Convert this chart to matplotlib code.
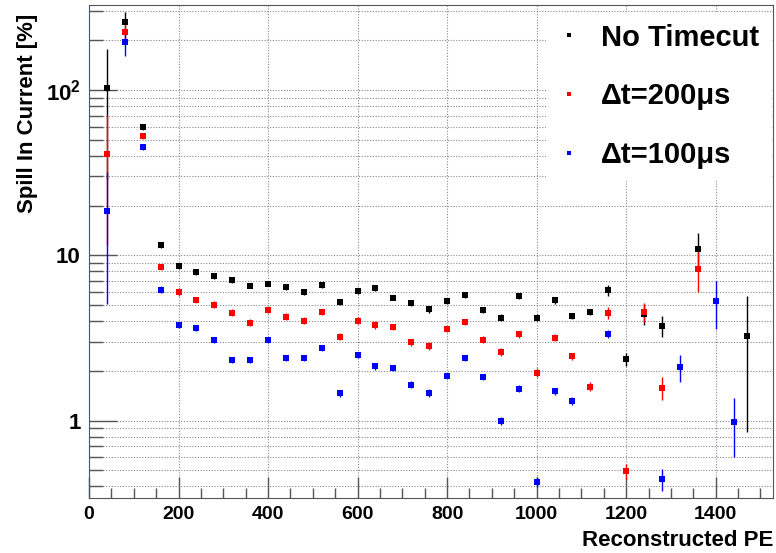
import matplotlib
matplotlib.use("Agg")
import matplotlib.pyplot as plt
from matplotlib.lines import Line2D
from matplotlib.ticker import FixedLocator, FixedFormatter, LogLocator, MultipleLocator, NullFormatter

plt.rcParams["font.family"] = ["Liberation Sans", "DejaVu Sans"]
plt.rcParams["font.weight"] = "bold"
plt.rcParams["mathtext.fontset"] = "custom"
plt.rcParams["mathtext.rm"] = "Liberation Sans:bold"
plt.rcParams["mathtext.bf"] = "Liberation Sans:bold"

# --- dados (PE reconstruido, % spill) ---
x_none = [40, 80, 120, 160, 200, 240, 280, 320, 360, 400, 440, 480, 520, 560, 600,
          640, 680, 720, 760, 800, 840, 880, 920, 960, 1000, 1040, 1080, 1120, 1160,
          1200, 1240, 1280, 1360, 1470]
y_none = [103, 257, 59.5, 11.5, 8.6, 7.9, 7.45, 7.1, 6.55, 6.75, 6.45, 6.0, 6.6, 5.2, 6.1,
          6.35, 5.55, 5.15, 4.7, 5.3, 5.75, 4.65, 4.2, 5.65, 4.2, 5.35, 4.3, 4.55, 6.15,
          2.35, 4.4, 3.75, 10.9, 3.25]
e_none = [74, 41, 2.0, 0.5, 0.35, 0.3, 0.3, 0.3, 0.25, 0.25, 0.25, 0.25, 0.25, 0.2, 0.25,
          0.25, 0.2, 0.2, 0.2, 0.2, 0.2, 0.2, 0.2, 0.2, 0.2, 0.25, 0.2, 0.2, 0.45,
          0.22, 0.6, 0.55, 2.7, 2.4]

x_200 = [40, 80, 120, 160, 200, 240, 280, 320, 360, 400, 440, 480, 520, 560, 600,
         640, 680, 720, 760, 800, 840, 880, 920, 960, 1000, 1040, 1080, 1120, 1160,
         1200, 1240, 1280, 1360]
y_200 = [41, 226, 52.5, 8.5, 6.0, 5.37, 5.03, 4.5, 3.91, 4.67, 4.25, 4.02, 4.54, 3.22, 4.02,
         3.8, 3.68, 2.98, 2.84, 3.58, 3.93, 3.09, 2.61, 3.33, 1.95, 3.17, 2.45, 1.6, 4.5,
         0.493, 4.56, 1.58, 8.26]
e_200 = [29.5, 35, 2.0, 0.4, 0.3, 0.25, 0.25, 0.2, 0.2, 0.2, 0.2, 0.2, 0.2, 0.15, 0.2,
         0.2, 0.15, 0.15, 0.15, 0.15, 0.15, 0.15, 0.15, 0.15, 0.12, 0.15, 0.12, 0.1, 0.37,
         0.05, 0.6, 0.25, 2.3]

x_100 = [40, 80, 120, 160, 200, 240, 280, 320, 360, 400, 440, 480, 520, 560, 600,
         640, 680, 720, 760, 800, 840, 880, 920, 960, 1000, 1040, 1080, 1160,
         1280, 1320, 1400, 1440]
y_100 = [18.5, 195, 45, 6.2, 3.77, 3.63, 3.06, 2.32, 2.32, 3.06, 2.4, 2.38, 2.74, 1.46, 2.49,
         2.13, 2.07, 1.65, 1.475, 1.86, 2.38, 1.84, 0.995, 1.56, 0.425, 1.5, 1.32, 3.34,
         0.441, 2.10, 5.27, 0.985]
e_100 = [13.4, 34, 1.8, 0.3, 0.15, 0.15, 0.12, 0.1, 0.1, 0.12, 0.1, 0.1, 0.1, 0.08, 0.1,
         0.1, 0.08, 0.08, 0.08, 0.08, 0.1, 0.08, 0.06, 0.08, 0.03, 0.07, 0.07, 0.2,
         0.065, 0.4, 1.7, 0.38]

SERIES = [
    ("No Timecut", x_none, y_none, e_none, "#000000"),
    ("\u0394t=200\u03bcs", x_200, y_200, e_200, "#ff0000"),
    ("\u0394t=100\u03bcs", x_100, y_100, e_100, "#0000ff"),
]

fig = plt.figure(figsize=(7.76, 5.53), dpi=100)
ax = fig.add_axes([89 / 776, 1 - 498 / 553, (773 - 89) / 776, (498 - 5) / 553])

for label, xs, ys, es, c in SERIES:
    ax.errorbar(xs, ys, yerr=es, fmt="s", color=c, ms=4.6, mew=0, elinewidth=1.0,
                capsize=2, capthick=1.0, ecolor=c, alpha=1, zorder=3)

ax.set_yscale("log")
ax.set_xlim(0, 1528)
ax.set_ylim(0.34, 327)

ax.xaxis.set_major_locator(MultipleLocator(200))
ax.xaxis.set_minor_locator(MultipleLocator(50))
ax.yaxis.set_major_locator(FixedLocator([1, 10, 100]))
ax.yaxis.set_major_formatter(FixedFormatter(["1", "10", r"$\mathbf{10^{2}}$"]))
ax.yaxis.set_minor_locator(LogLocator(base=10, subs=range(2, 10)))
ax.yaxis.set_minor_formatter(NullFormatter())

ax.tick_params(axis="both", which="major", direction="in", labelsize=14, width=1.0, color="#555555")
ax.tick_params(axis="x", which="major", length=15, pad=6)
ax.tick_params(axis="x", which="minor", direction="in", length=7, width=1.0, color="#555555")
ax.tick_params(axis="y", which="major", length=20, pad=6, labelsize=16)
ax.tick_params(axis="y", which="minor", direction="in", length=10, width=1.0, color="#555555")

ax.grid(True, which="major", axis="x", ls=(0, (1, 1.5)), color="#888888", lw=0.8)
ax.grid(True, which="both", axis="y", ls=(0, (1, 1.5)), color="#888888", lw=0.8)
ax.set_axisbelow(True)

for s in ("top", "right", "bottom"):
    ax.spines[s].set_color("#555555")
ax.spines["left"].set_color("#4444cc")

fig.text(28 / 776, 1 - 14 / 553, "Spill In Current [%]", rotation=90, ha="center", va="top",
         fontsize=16, fontweight="bold")
fig.text(773 / 776, 1 - 540 / 553, "Reconstructed PE", ha="right", va="center",
         fontsize=16, fontweight="bold")

handles = [Line2D([], [], ls="none", marker="s", ms=3.5, mew=0, color=c) for _, _, _, _, c in SERIES]
leg = ax.legend(handles, [s[0] for s in SERIES], loc="upper right",
                bbox_to_anchor=(771 / 776, 1 - 12 / 553), bbox_transform=fig.transFigure,
                frameon=True, framealpha=1, facecolor="white", edgecolor="none", fancybox=False,
                prop={"size": 21, "weight": "bold"}, handlelength=0.8, handletextpad=0.7,
                labelspacing=1.05, borderpad=0.4, borderaxespad=0)

fig.savefig("out.png", dpi=100)
